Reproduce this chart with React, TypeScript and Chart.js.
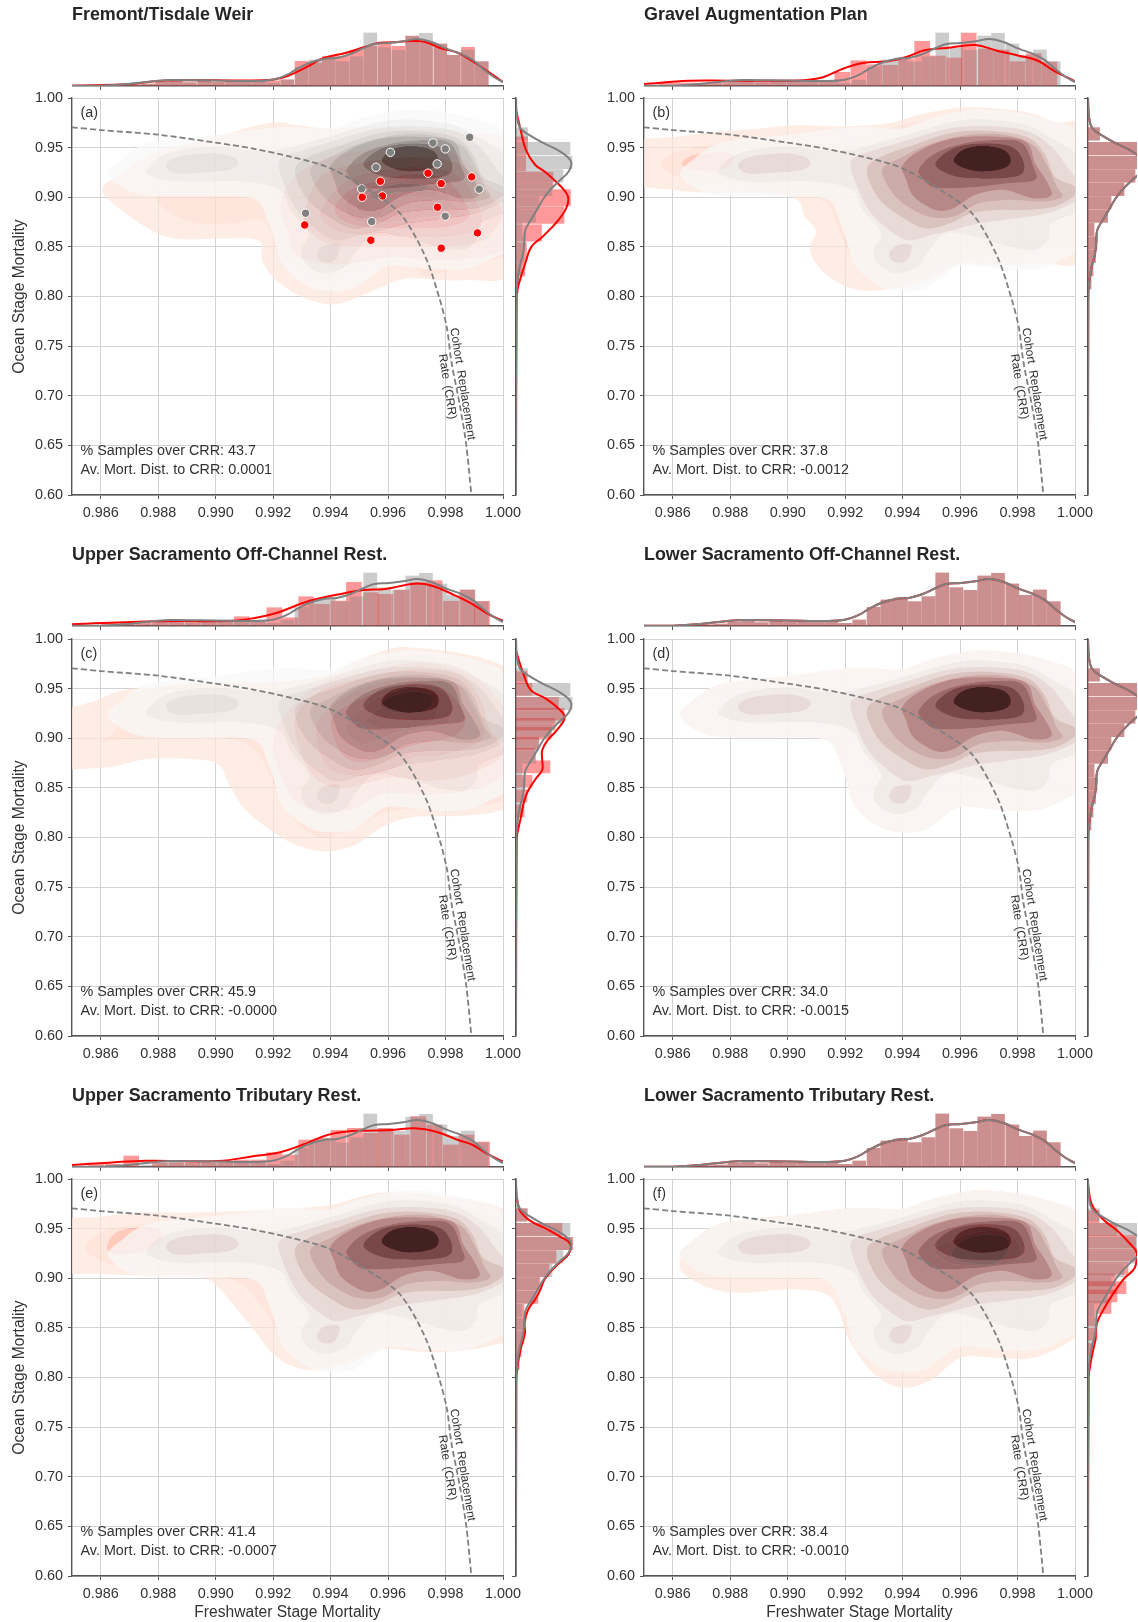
import React, { useEffect, useRef } from "react";
import { Chart, registerables } from "chart.js";

Chart.register(...registerables);
Chart.defaults.font.family = "'Liberation Sans', Arial, sans-serif";

type Pt = [number, number];

const TITLES = ["Fremont/Tisdale Weir", "Gravel Augmentation Plan", "Upper Sacramento Off-Channel Rest.", "Lower Sacramento Off-Channel Rest.", "Upper Sacramento Tributary Rest.", "Lower Sacramento Tributary Rest."];
const LETTERS = ["(a)", "(b)", "(c)", "(d)", "(e)", "(f)"];
const SAMPLES_OVER = ["43.7", "37.8", "45.9", "34.0", "41.4", "38.4"];
const MORT_DIST = ["0.0001", "-0.0012", "-0.0000", "-0.0015", "-0.0007", "-0.0010"];

const CRR_X = [0.985, 0.986, 0.988, 0.99, 0.9913, 0.9926, 0.99388, 0.99515, 0.99642, 0.9973, 0.9978, 0.99805, 0.9982, 0.9985, 0.99872, 0.9989];
const CRR_Y = [0.9705, 0.9677, 0.963, 0.955, 0.949, 0.941, 0.9305, 0.9105, 0.8836, 0.84, 0.797, 0.768, 0.735, 0.69, 0.651, 0.6];

const GREY_POINTS: Pt[] = [[0.99884, 0.9604], [0.99756, 0.9547], [0.99799, 0.9487], [0.99608, 0.9453], [0.99771, 0.9336], [0.99558, 0.9302], [0.99917, 0.9081], [0.99508, 0.9084], [0.99313, 0.8839], [0.99543, 0.8755], [0.99799, 0.8809]];
const RED_POINTS: Pt[] = [[0.99739, 0.9242], [0.99891, 0.9205], [0.99573, 0.9161], [0.99785, 0.9138], [0.9951, 0.9], [0.9958, 0.9013], [0.99772, 0.8899], [0.9931, 0.8721], [0.9954, 0.8567], [0.99911, 0.8641], [0.99785, 0.8487]];

// ---- Baseline KDE outlines (x, y)
const G1: Pt[] = [[0.98625, 0.9242], [0.98669, 0.9376], [0.98745, 0.9527], [0.98846, 0.9584], [0.98997, 0.9628], [0.99199, 0.9701], [0.99287, 0.9705], [0.99401, 0.9695], [0.99502, 0.9795], [0.99603, 0.9862], [0.99678, 0.9886], [0.99817, 0.9846], [0.9993, 0.9762], [1.0, 0.9661], [1.0006, 0.9309], [1.0006, 0.8503], [1.0, 0.8436], [0.9988, 0.8285], [0.99754, 0.8275], [0.99603, 0.8309], [0.99539, 0.8201], [0.99483, 0.8084], [0.99407, 0.805], [0.99325, 0.81], [0.99237, 0.8302], [0.99205, 0.857], [0.9918, 0.8772], [0.99149, 0.8956], [0.99073, 0.9007], [0.98871, 0.9007], [0.98745, 0.9023], [0.98669, 0.9107]];
const G2: Pt[] = [[0.9876, 0.9275], [0.98833, 0.9443], [0.98985, 0.951], [0.99123, 0.947], [0.99218, 0.9477], [0.99312, 0.9544], [0.99451, 0.9661], [0.99577, 0.9762], [0.99678, 0.9785], [0.99829, 0.9728], [0.99918, 0.9594], [1.0, 0.9443], [1.0003, 0.9242], [1.0003, 0.8906], [1.0, 0.8839], [0.99918, 0.8738], [0.99905, 0.857], [0.99855, 0.847], [0.99754, 0.852], [0.99653, 0.8604], [0.99552, 0.8638], [0.99483, 0.8436], [0.99451, 0.8302], [0.99376, 0.8235], [0.99312, 0.8336], [0.993, 0.847], [0.99325, 0.8638], [0.99262, 0.8872], [0.99224, 0.9074], [0.99098, 0.9158], [0.98871, 0.9158], [0.98783, 0.9208]];
const G3: Pt[] = [[0.99218, 0.9342], [0.99249, 0.9426], [0.99325, 0.9493], [0.99439, 0.9594], [0.99565, 0.9695], [0.99691, 0.9718], [0.99829, 0.9671], [0.99918, 0.951], [0.99981, 0.9275], [1.0003, 0.9107], [1.0003, 0.9007], [1.0, 0.8956], [0.99905, 0.8839], [0.99754, 0.8772], [0.99666, 0.8738], [0.99577, 0.8671], [0.99502, 0.8621], [0.99413, 0.857], [0.99325, 0.8738], [0.99275, 0.8906], [0.99237, 0.9141]];
const G3_LOBE_LEFT: Pt[] = [[0.98827, 0.9326], [0.98871, 0.9409], [0.98985, 0.9443], [0.9906, 0.9409], [0.99079, 0.9342], [0.99048, 0.9275], [0.98947, 0.9248], [0.98859, 0.9242]];
const G3_LOBE_LOW: Pt[] = [[0.99353, 0.8429], [0.99376, 0.851], [0.99426, 0.8527], [0.99428, 0.8436], [0.99407, 0.8352], [0.99369, 0.8352]];
const G4: Pt[] = [[0.99275, 0.9275], [0.99325, 0.9409], [0.99439, 0.9527], [0.99565, 0.9644], [0.99691, 0.9671], [0.99829, 0.9611], [0.99893, 0.9443], [0.9993, 0.9208], [1.0, 0.9107], [1.0, 0.9023], [0.9993, 0.8906], [0.99829, 0.8872], [0.99729, 0.8872], [0.9964, 0.8839], [0.99565, 0.8738], [0.99476, 0.8688], [0.99376, 0.8839], [0.99312, 0.9007]];
const G5: Pt[] = [[0.99331, 0.9292], [0.99401, 0.9409], [0.99502, 0.9544], [0.99628, 0.9628], [0.99754, 0.9628], [0.99855, 0.9527], [0.99905, 0.9309], [0.99937, 0.9107], [0.99956, 0.9007], [0.99893, 0.8956], [0.99779, 0.8973], [0.99666, 0.894], [0.99577, 0.8805], [0.99489, 0.8805], [0.99401, 0.894], [0.9935, 0.9107]];
const G6: Pt[] = [[0.99401, 0.9326], [0.99464, 0.9477], [0.99577, 0.9594], [0.99716, 0.9611], [0.99829, 0.956], [0.99861, 0.9342], [0.99899, 0.9175], [0.99918, 0.9023], [0.99855, 0.899], [0.99754, 0.9074], [0.99653, 0.9023], [0.99577, 0.8889], [0.99514, 0.8872], [0.99439, 0.9007], [0.99413, 0.9175]];
const G7: Pt[] = [[0.99458, 0.9292], [0.99514, 0.9443], [0.99615, 0.9544], [0.99729, 0.9577], [0.99817, 0.9544], [0.99855, 0.9309], [0.99861, 0.9175], [0.99766, 0.9141], [0.99666, 0.9107], [0.99565, 0.9091], [0.99502, 0.9107], [0.99464, 0.9208]];
const G8: Pt[] = [[0.99514, 0.9342], [0.99577, 0.9493], [0.99678, 0.9544], [0.99779, 0.951], [0.99819, 0.9376], [0.99817, 0.9242], [0.99754, 0.9191], [0.99628, 0.9191], [0.99552, 0.9242]];
const G9: Pt[] = [[0.99577, 0.9369], [0.99609, 0.9477], [0.99678, 0.952], [0.99754, 0.9477], [0.99777, 0.9376], [0.99754, 0.9292], [0.99678, 0.9258], [0.99615, 0.9292]];

// ---- Panel (a) action KDE outlines
const A1: Pt[] = [[0.98607, 0.9104], [0.98654, 0.9205], [0.98781, 0.944], [0.98958, 0.9574], [0.99186, 0.9748], [0.99287, 0.9725], [0.99389, 0.9691], [0.99515, 0.9708], [0.99667, 0.9691], [0.9987, 0.9658], [1.0005, 0.9473], [1.0005, 0.8299], [0.99857, 0.8164], [0.99667, 0.8181], [0.99553, 0.8064], [0.99452, 0.7946], [0.99389, 0.7923], [0.993, 0.7997], [0.99211, 0.8164], [0.99161, 0.8366], [0.99148, 0.8567], [0.99009, 0.8584], [0.98857, 0.8584], [0.98756, 0.8701], [0.98629, 0.897]];
const A2: Pt[] = [[0.98794, 0.9003], [0.98908, 0.9138], [0.99135, 0.9238], [0.99275, 0.9406], [0.99452, 0.954], [0.99667, 0.9574], [0.9987, 0.9507], [1.0005, 0.9238], [1.0005, 0.8483], [1.0, 0.8399], [0.99819, 0.8265], [0.9973, 0.8198], [0.99667, 0.8332], [0.99528, 0.8299], [0.99389, 0.8164], [0.99275, 0.8299], [0.99211, 0.8534], [0.99161, 0.8768], [0.99059, 0.8735], [0.98933, 0.8735], [0.98844, 0.8836]];
const A3: Pt[] = [[0.99224, 0.8903], [0.99262, 0.9171], [0.99363, 0.9373], [0.99515, 0.9473], [0.9968, 0.9507], [0.99832, 0.944], [0.99958, 0.9104], [1.0005, 0.897], [1.0005, 0.8567], [0.99933, 0.8399], [0.99743, 0.8366], [0.99616, 0.8399], [0.99465, 0.8332], [0.99363, 0.8332], [0.99275, 0.8433], [0.99249, 0.8668]];
const A4: Pt[] = [[0.99313, 0.8903], [0.99363, 0.9205], [0.9949, 0.9339], [0.9968, 0.9406], [0.99844, 0.9339], [0.99946, 0.9037], [1.0, 0.8836], [0.99933, 0.8567], [0.99794, 0.85], [0.99642, 0.85], [0.99515, 0.85], [0.99389, 0.8534], [0.99313, 0.8701]];
const A5: Pt[] = [[0.99363, 0.8836], [0.99427, 0.9104], [0.99515, 0.9238], [0.9968, 0.9305], [0.99832, 0.9238], [0.99908, 0.897], [0.9992, 0.8701], [0.99819, 0.8601], [0.99642, 0.8601], [0.99515, 0.8617], [0.99414, 0.8668]];
const A6: Pt[] = [[0.99414, 0.8903], [0.99465, 0.907], [0.99566, 0.9171], [0.9968, 0.9238], [0.99794, 0.9188], [0.99857, 0.9003], [0.99882, 0.8802], [0.99806, 0.8701], [0.99642, 0.8685], [0.99515, 0.8701], [0.99439, 0.8768]];
const A7: Pt[] = [[0.99452, 0.8936], [0.99503, 0.907], [0.99591, 0.9138], [0.99692, 0.9188], [0.99781, 0.9138], [0.99819, 0.897], [0.99844, 0.8836], [0.99743, 0.8802], [0.99616, 0.8752], [0.99515, 0.8752], [0.99465, 0.8802]];
const A8: Pt[] = [[0.99496, 0.8936], [0.99566, 0.9087], [0.9968, 0.9154], [0.99756, 0.9104], [0.99768, 0.9003], [0.99667, 0.9003], [0.99604, 0.8936], [0.99566, 0.8802], [0.99503, 0.8836]];
const A9: Pt[] = [[0.9954, 0.9037], [0.99629, 0.9131], [0.9973, 0.9121], [0.99718, 0.9064], [0.99616, 0.9044], [0.99566, 0.897]];

// ---- Panel (b)
const B1: Pt[] = [[0.984, 0.954], [0.98606, 0.9607], [0.98745, 0.9658], [0.98896, 0.9691], [0.99022, 0.9725], [0.99199, 0.9715], [0.9935, 0.9742], [0.99451, 0.9826], [0.99577, 0.9893], [0.99678, 0.9903], [0.99829, 0.9859], [0.9993, 0.9758], [1.0005, 0.9641], [1.0005, 0.8433], [0.9988, 0.8332], [0.99729, 0.8315], [0.99603, 0.8332], [0.99539, 0.8231], [0.99439, 0.8114], [0.9935, 0.807], [0.99249, 0.8064], [0.99161, 0.8164], [0.99098, 0.8332], [0.99078, 0.85], [0.99098, 0.8668], [0.9906, 0.8802], [0.99035, 0.897], [0.98947, 0.9037], [0.98745, 0.9044], [0.98606, 0.907], [0.984, 0.9171]];
const B2: Pt[] = [[0.98558, 0.9322], [0.98594, 0.9433], [0.9872, 0.9524], [0.98896, 0.9574], [0.99123, 0.954], [0.99218, 0.9557], [0.9935, 0.9691], [0.99451, 0.9758], [0.99577, 0.9842], [0.99678, 0.9859], [0.99829, 0.9809], [0.9993, 0.9691], [1.0005, 0.9507], [1.0005, 0.8634], [0.99918, 0.8517], [0.99804, 0.8399], [0.99653, 0.8382], [0.99552, 0.8332], [0.99476, 0.8198], [0.99376, 0.8114], [0.99275, 0.8198], [0.99212, 0.8433], [0.99174, 0.8701], [0.99123, 0.897], [0.98997, 0.907], [0.98745, 0.9138], [0.98619, 0.9205]];
const B3_LOBE: Pt[] = [[0.98632, 0.9339], [0.98669, 0.9423], [0.9877, 0.9456], [0.98815, 0.9406], [0.9877, 0.9272], [0.98669, 0.9272]];

// ---- Panel (c)
const C1: Pt[] = [[0.984, 0.9178], [0.98578, 0.9376], [0.98667, 0.9477], [0.98756, 0.951], [0.98958, 0.951], [0.99211, 0.956], [0.99389, 0.9628], [0.9949, 0.9779], [0.99616, 0.9906], [0.99692, 0.9913], [0.99844, 0.9862], [1.0, 0.9728], [1.0005, 0.9477], [1.0005, 0.8369], [0.99984, 0.8268], [0.99857, 0.8218], [0.9968, 0.8201], [0.99578, 0.8101], [0.9949, 0.7933], [0.99389, 0.7859], [0.99287, 0.7916], [0.99186, 0.8084], [0.99097, 0.8302], [0.99047, 0.8537], [0.99009, 0.8738], [0.9892, 0.8789], [0.98756, 0.8789], [0.98616, 0.8705], [0.984, 0.8738]];
const C2: Pt[] = [[0.98597, 0.8956], [0.98654, 0.9107], [0.9868, 0.9409], [0.98882, 0.9544], [0.99262, 0.9577], [0.9949, 0.9711], [0.99692, 0.9846], [0.99946, 0.9711], [1.0005, 0.951], [1.0005, 0.8503], [0.99882, 0.8302], [0.9973, 0.8285], [0.99591, 0.8252], [0.99465, 0.8067], [0.99363, 0.8], [0.99275, 0.8168], [0.99211, 0.8503], [0.99135, 0.8872], [0.99034, 0.9007], [0.98882, 0.904], [0.98756, 0.9007], [0.98629, 0.8973]];
const C3: Pt[] = [[0.99211, 0.9107], [0.99262, 0.9309], [0.99363, 0.9544], [0.99515, 0.9661], [0.99692, 0.9762], [0.99844, 0.9695], [0.99946, 0.951], [1.0005, 0.9107], [1.0005, 0.8772], [0.99971, 0.857], [0.99882, 0.847], [0.99768, 0.8436], [0.9968, 0.8436], [0.99578, 0.8436], [0.99465, 0.8268], [0.99363, 0.8268], [0.99275, 0.8369], [0.99224, 0.8638], [0.99199, 0.8906]];
const C4: Pt[] = [[0.99275, 0.9175], [0.99363, 0.9477], [0.99515, 0.9611], [0.99692, 0.9695], [0.99844, 0.9644], [0.9992, 0.9409], [0.99952, 0.9107], [1.0, 0.8839], [0.99882, 0.8638], [0.99743, 0.857], [0.99616, 0.8604], [0.99515, 0.8537], [0.99414, 0.8503], [0.99325, 0.8671]];
const C5: Pt[] = [[0.99363, 0.9208], [0.99465, 0.9443], [0.99591, 0.9577], [0.9973, 0.9611], [0.99844, 0.9544], [0.99895, 0.9309], [0.99933, 0.9007], [0.99806, 0.8839], [0.99692, 0.8805], [0.99604, 0.8671], [0.99477, 0.8621], [0.99389, 0.8705], [0.99351, 0.8973]];
const C6: Pt[] = [[0.99401, 0.9175], [0.99465, 0.9342], [0.99591, 0.9493], [0.9973, 0.956], [0.99819, 0.9443], [0.9987, 0.9175], [0.99819, 0.9007], [0.99705, 0.894], [0.99604, 0.8839], [0.99515, 0.8755], [0.99439, 0.8839]];
const C7: Pt[] = [[0.99452, 0.9107], [0.99515, 0.9309], [0.99591, 0.9443], [0.9973, 0.9527], [0.99813, 0.9409], [0.99813, 0.9175], [0.99743, 0.9107], [0.99629, 0.9057], [0.99515, 0.894]];
const C8: Pt[] = [[0.99522, 0.9191], [0.99578, 0.9309], [0.99591, 0.9426], [0.9968, 0.951], [0.99768, 0.9477], [0.99775, 0.9342], [0.99756, 0.9175], [0.9968, 0.9107], [0.99566, 0.9107]];
const C9: Pt[] = [[0.99578, 0.9349], [0.99616, 0.9426], [0.99692, 0.9473], [0.99756, 0.9409], [0.99724, 0.9275], [0.99642, 0.9258], [0.99591, 0.9292]];

// ---- Panel (e)
const E1: Pt[] = [[0.984, 0.9547], [0.98604, 0.9621], [0.98756, 0.9664], [0.98958, 0.9664], [0.99211, 0.9698], [0.99389, 0.9732], [0.99515, 0.9832], [0.99616, 0.9866], [0.99768, 0.9832], [1.0, 0.9698], [1.0005, 0.9312], [1.0005, 0.8406], [0.99984, 0.8339], [0.9987, 0.8272], [0.9973, 0.8255], [0.99591, 0.8289], [0.99515, 0.8205], [0.99414, 0.8104], [0.99313, 0.8077], [0.99211, 0.8205], [0.99135, 0.8473], [0.99059, 0.8742], [0.98996, 0.8943], [0.9892, 0.9027], [0.98756, 0.9027], [0.98616, 0.9044], [0.984, 0.9094]];
const E2: Pt[] = [[0.98543, 0.9295], [0.98591, 0.9446], [0.98692, 0.953], [0.98882, 0.9564], [0.99135, 0.9547], [0.99363, 0.9648], [0.99515, 0.9765], [0.99616, 0.9815], [0.99768, 0.9782], [0.99946, 0.9648], [1.0005, 0.9379], [1.0005, 0.8574], [0.9992, 0.8372], [0.99768, 0.8339], [0.99591, 0.8356], [0.9949, 0.8205], [0.99389, 0.8121], [0.99287, 0.8205], [0.99224, 0.8439], [0.99161, 0.8708], [0.99085, 0.8943], [0.98983, 0.9044], [0.98756, 0.9094], [0.98616, 0.9161]];
const E3_LOBE: Pt[] = [[0.98623, 0.9346], [0.98667, 0.948], [0.98781, 0.9513], [0.98815, 0.9413], [0.98756, 0.9279], [0.98642, 0.9245]];

// ---- Panel (f)
const F1: Pt[] = [[0.98625, 0.9138], [0.98657, 0.9003], [0.98745, 0.8886], [0.98846, 0.8852], [0.98997, 0.8886], [0.99123, 0.8852], [0.99174, 0.8701], [0.99205, 0.8433], [0.99262, 0.8164], [0.99325, 0.798], [0.99407, 0.7896], [0.99502, 0.798], [0.99603, 0.8198], [0.99729, 0.8198], [0.99855, 0.8198], [1.0, 0.8399], [1.0005, 0.8634], [1.0005, 0.9373], [0.9993, 0.9758], [0.99678, 0.9883], [0.99502, 0.9792], [0.99401, 0.9691], [0.99199, 0.9658], [0.98846, 0.959], [0.98669, 0.9373]];
const F8: Pt[] = [[0.99508, 0.9289], [0.99577, 0.9389], [0.99678, 0.9473], [0.99766, 0.9456], [0.99804, 0.9339], [0.99804, 0.9205], [0.99754, 0.9144], [0.99653, 0.9131], [0.99565, 0.9154]];
const F9: Pt[] = [[0.99571, 0.9272], [0.99615, 0.9389], [0.99691, 0.944], [0.9976, 0.9406], [0.99766, 0.9272], [0.99716, 0.9144], [0.99628, 0.9154], [0.99584, 0.9188]];

const GREY_LEVELS: Pt[][][] = [[G1], [G2], [G3, G3_LOBE_LEFT, G3_LOBE_LOW], [G4], [G5], [G6], [G7], [G8], [G9]];
const RED_LEVELS: Pt[][][][] = [
  [[A1], [A2], [A3], [A4], [A5], [A6], [A7], [A8], [A9]],
  [[B1], [B2], [G3, G3_LOBE_LEFT, G3_LOBE_LOW, B3_LOBE], [G4], [G5], [G6], [G7], [G8], [G9]],
  [[C1], [C2], [C3], [C4], [C5], [C6], [C7], [C8], [C9]],
  GREY_LEVELS,
  [[E1], [E2], [G3, G3_LOBE_LEFT, G3_LOBE_LOW, E3_LOBE], [G4], [G5], [G6], [G7], [G8], [G9]],
  [[F1], [G1], [G3, G3_LOBE_LEFT, G3_LOBE_LOW], [G4], [G5], [G6], [G7], [F8], [F9]],
];

const GREY_COLORS = ["rgba(248,248,248,.75)", "rgba(238,238,238,.75)", "rgba(224,224,224,.75)", "rgba(207,207,207,.75)", "rgba(188,188,188,.75)", "rgba(160,160,160,.75)", "rgba(125,125,125,.75)", "rgba(85,85,85,.75)", "rgba(37,37,37,.75)"];
const RED_COLORS = ["rgba(254,229,217,.7)", "rgba(254,220,205,.7)", "rgba(253,181,160,.7)", "rgba(253,147,125,.85)", "rgba(251,105,90,.88)", "rgba(247,55,48,.92)", "rgba(238,28,28,.92)", "rgba(218,12,16,.92)", "rgba(150,0,0,.92)"];

// ---- Top marginal histograms
const TOP_GREY_BINS = [0.99926, 0.99878, 0.99829, 0.99782, 0.99732, 0.99684, 0.99636, 0.99587, 0.99538, 0.9949, 0.99442, 0.99394, 0.99347, 0.99299, 0.99249, 0.992, 0.99152, 0.99104, 0.99057, 0.99008, 0.9896, 0.9891, 0.98862, 0.98814, 0.98766, 0.98718, 0.9867];
const TOP_GREY_VALUES = [24.3, 36, 30.7, 42, 52.7, 50, 35.7, 38.3, 53, 29.3, 24.3, 28, 26, 18.7, 6, 2.7, 4, 4.3, 4.7, 3.7, 5.3, 3.3, 6, 4, 2, 1.3, 0.7];
const TOP_A_VALUES = [24.3, 38.7, 30.7, 42, 43, 49.7, 39.7, 44, 39.7, 35.7, 29.7, 29.7, 23, 24.7, 6.3, 5.3, 4, 4.3, 4.7, 3.7, 5.3, 3.3, 6, 4, 2, 1.3, 0.7];
const TOP_B_BINS = [0.99911, 0.99856, 0.998, 0.99745, 0.9969, 0.9963, 0.99579, 0.99523, 0.99468, 0.99412, 0.99357, 0.99301, 0.99246, 0.9919, 0.99135, 0.99079, 0.99024, 0.98968, 0.98913, 0.98857, 0.98802, 0.98746, 0.98691, 0.98635, 0.9858];
const TOP_B_VALUES = [24, 32.3, 24.3, 36, 37, 53, 28, 30, 44.7, 27, 20.7, 21.3, 25.3, 13.7, 5.7, 4.7, 5, 4.7, 4.3, 5, 4, 3.7, 3, 3, 2.7];
const TOP_C_BINS = [0.99927, 0.99876, 0.99819, 0.99762, 0.99705, 0.99648, 0.99591, 0.9954, 0.99481, 0.99427, 0.9937, 0.99315, 0.99259, 0.99204, 0.99148, 0.99091, 0.99034, 0.98977, 0.9892, 0.98863, 0.98806, 0.98749, 0.98692, 0.98629];
const TOP_C_VALUES = [24.7, 36, 24.7, 45.3, 43.3, 36, 31.7, 33.3, 43.7, 25, 21.7, 29.3, 8.3, 18.3, 4, 9.3, 4.3, 4, 4.7, 4.7, 4, 3.3, 2.7, 2.3];
const TOP_E_BINS = [0.99927, 0.99873, 0.99818, 0.99762, 0.99705, 0.99648, 0.99591, 0.99538, 0.99484, 0.99427, 0.99371, 0.99315, 0.99259, 0.99204, 0.99148, 0.99091, 0.99034, 0.98977, 0.9892, 0.98863, 0.98806, 0.98706, 0.98642, 0.98585];
const TOP_E_VALUES = [25, 32, 22, 42, 50.3, 32, 38.7, 33.7, 38.7, 36.7, 28.7, 27, 12, 14.3, 7, 7, 5, 4.3, 5, 4.3, 4.3, 11, 2.7, 2.3];

// ---- Top marginal KDE curves
const TOP_KDE_GREY: Pt[] = [[0.985, 0.3], [0.986, 0.3], [0.98695, 2], [0.98799, 5.3], [0.98846, 6], [0.98947, 5.7], [0.99048, 5.3], [0.99123, 5], [0.99199, 6.3], [0.99249, 11.3], [0.99275, 15.7], [0.99325, 23], [0.99376, 27], [0.99426, 28.3], [0.9947, 32], [0.99514, 37.7], [0.99552, 42], [0.99603, 43], [0.99653, 44.7], [0.99703, 47], [0.99754, 43.7], [0.99804, 37.3], [0.99855, 32], [0.99893, 26.3], [0.9993, 17.3], [0.99968, 9], [1.0, 4]];
const TOP_KDE_A: Pt[] = [[0.985, 0.3], [0.987, 2], [0.988, 5], [0.989, 5.7], [0.99, 5.7], [0.991, 5.5], [0.992, 6.5], [0.9925, 10], [0.9933, 21], [0.99376, 28], [0.99452, 33], [0.99515, 38.7], [0.99566, 43], [0.99616, 43.7], [0.9968, 45], [0.9973, 44], [0.99781, 38], [0.99844, 33], [0.99895, 24.7], [0.99946, 14.7], [1.0, 4]];
const TOP_KDE_B: Pt[] = [[0.985, 2], [0.98657, 5.3], [0.98795, 5.3], [0.98997, 5.3], [0.99073, 6.3], [0.99123, 8.7], [0.99199, 18], [0.99262, 23], [0.9935, 24.7], [0.99413, 29], [0.99476, 35.7], [0.99552, 38], [0.99653, 41], [0.99729, 35.3], [0.99804, 30.3], [0.99867, 25.7], [0.9993, 14.7], [1.0, 4.7]];
const TOP_KDE_C: Pt[] = [[0.985, 1.7], [0.98794, 4.7], [0.9906, 5.3], [0.99135, 8], [0.99211, 13], [0.99325, 25], [0.99452, 33], [0.99515, 36], [0.99591, 37], [0.99692, 42.3], [0.99756, 40], [0.99832, 30.7], [0.99895, 21.7], [0.99952, 11.3], [1.0, 5.3]];
const TOP_KDE_E: Pt[] = [[0.985, 2], [0.98629, 4.3], [0.98756, 6.3], [0.99009, 6], [0.99135, 11], [0.99224, 14.7], [0.993, 22], [0.99389, 32], [0.99452, 35.3], [0.99515, 36.3], [0.99616, 37], [0.99692, 38.7], [0.99768, 35.3], [0.99844, 27], [0.99895, 22], [0.99946, 13], [1.0, 5.3]];

// ---- Right marginal histograms
const SIDE_GREY_BINS = [0.9638, 0.949, 0.935, 0.9215, 0.908, 0.8945, 0.881, 0.8675, 0.854, 0.8405, 0.827, 0.814];
const SIDE_GREY_VALUES = [11.5, 54, 56, 47, 36, 23, 19.6, 6, 9, 7.5, 5, 3];
const SIDE_A_BINS = [0.9525, 0.9348, 0.917, 0.8995, 0.882, 0.864, 0.846, 0.829, 0.812];
const SIDE_A_VALUES = [11.6, 9.8, 37, 54.5, 48, 25.5, 10.5, 9, 2.5];
const SIDE_C_BINS = [0.9611, 0.9493, 0.9352, 0.9242, 0.9141, 0.905, 0.895, 0.8839, 0.8711, 0.8567, 0.8419, 0.8268];
const SIDE_C_VALUES = [11, 16, 42.5, 48, 39, 35, 22.5, 19, 34, 16, 11, 8];
const SIDE_E_VALUES = [11, 46, 57, 40, 33, 24, 22, 8, 9, 8, 5, 3];
const SIDE_F_BINS = [0.962, 0.9493, 0.9369, 0.9235, 0.91, 0.8983, 0.8906, 0.8822, 0.8705, 0.858, 0.8436, 0.8285];
const SIDE_F_VALUES = [11, 29, 47.6, 50.9, 40, 27, 38, 29, 23, 7, 9, 4];

// ---- Right marginal KDE curves (density, y)
const SIDE_KDE_GREY: Pt[] = [[0, 1.0], [1, 0.9815], [4.3, 0.9697], [14.3, 0.962], [27.7, 0.9545], [44.3, 0.946], [55, 0.936], [52.7, 0.926], [42.7, 0.916], [34.3, 0.9075], [27.7, 0.899], [22.7, 0.8905], [16, 0.879], [9.3, 0.867], [8.3, 0.855], [7, 0.843], [3.7, 0.83], [1, 0.813], [0.3, 0.796], [0, 0.6]];
const SIDE_KDE_A: Pt[] = [[0, 0.988], [4.4, 0.969], [9.8, 0.948], [18.9, 0.933], [29.8, 0.925], [40.7, 0.915], [49.8, 0.905], [52.4, 0.898], [49.8, 0.888], [40.7, 0.875], [26.2, 0.86], [15.3, 0.85], [9.8, 0.835], [4.4, 0.818], [0.7, 0.802], [0, 0.6]];
const SIDE_KDE_C: Pt[] = [[0, 0.988], [8, 0.963], [15.3, 0.948], [29.8, 0.94], [42.5, 0.93], [48.7, 0.921], [40.7, 0.908], [31.6, 0.898], [26.2, 0.888], [26.2, 0.878], [26.2, 0.868], [18.9, 0.858], [9.8, 0.842], [4.4, 0.818], [0.7, 0.798], [0, 0.6]];
const SIDE_KDE_E: Pt[] = [[0, 0.99], [1, 0.98], [4, 0.968], [14, 0.958], [28, 0.951], [44, 0.942], [54, 0.935], [53, 0.925], [43, 0.915], [33, 0.905], [28, 0.898], [25, 0.89], [20, 0.88], [12, 0.868], [8.5, 0.855], [9, 0.845], [5, 0.83], [2, 0.815], [0.3, 0.795], [0, 0.6]];
const SIDE_KDE_F: Pt[] = [[0, 0.995], [3.6, 0.975], [14.5, 0.96], [29, 0.948], [41.8, 0.935], [49, 0.925], [46.5, 0.91], [36.4, 0.9], [25.5, 0.885], [16.4, 0.87], [9, 0.855], [7.3, 0.838], [3.6, 0.82], [0.7, 0.8], [0, 0.6]];

const TOP_RED_BINS = [TOP_GREY_BINS, TOP_B_BINS, TOP_C_BINS, TOP_GREY_BINS, TOP_E_BINS, TOP_GREY_BINS];
const TOP_RED_VALUES = [TOP_A_VALUES, TOP_B_VALUES, TOP_C_VALUES, TOP_GREY_VALUES, TOP_E_VALUES, TOP_GREY_VALUES];
const TOP_RED_KDE = [TOP_KDE_A, TOP_KDE_B, TOP_KDE_C, TOP_KDE_GREY, TOP_KDE_E, TOP_KDE_GREY];
const SIDE_RED_BINS = [SIDE_A_BINS, SIDE_GREY_BINS, SIDE_C_BINS, SIDE_GREY_BINS, SIDE_GREY_BINS, SIDE_F_BINS];
const SIDE_RED_VALUES = [SIDE_A_VALUES, SIDE_GREY_VALUES, SIDE_C_VALUES, SIDE_GREY_VALUES, SIDE_E_VALUES, SIDE_F_VALUES];
const SIDE_RED_KDE = [SIDE_KDE_A, SIDE_KDE_GREY, SIDE_KDE_C, SIDE_KDE_GREY, SIDE_KDE_E, SIDE_KDE_F];
const TOP_RED_THICK = [13, 15, 15, 13, 15, 13];
const SIDE_RED_THICK = [16.5, 12.5, 12, 12.5, 12.5, 12];

// ---- Layout
const COL_LEFT = [72, 644];
const ROW_MAIN_TOP = [98, 639, 1179];
const ROW_BASE = [86, 626, 1167];
const PLOT_W = 431;
const PLOT_H = 397;
const TOP_H = 92;
const FONT_TICK = 14.4;
const FONT_LABEL = 15.6;
const FONT_NOTE = 14.35;
const FONT_CURVE = 12;
const TEXT_COLOR = "#333333";
const SPINE = "#555555";
const GRID = "#d2d2d2";

function tracePolygon(ctx: CanvasRenderingContext2D, xs: any, ys: any, poly: Pt[]) {
  const p = poly.map((q) => [xs.getPixelForValue(q[0]), ys.getPixelForValue(q[1])]);
  const n = p.length;
  ctx.moveTo(p[0][0], p[0][1]);
  for (let i = 0; i < n; i++) {
    const a = p[(i - 1 + n) % n], b = p[i], c = p[(i + 1) % n], d = p[(i + 2) % n];
    ctx.bezierCurveTo(b[0] + (c[0] - a[0]) / 6, b[1] + (c[1] - a[1]) / 6, c[0] - (d[0] - b[0]) / 6, c[1] - (d[1] - b[1]) / 6, c[0], c[1]);
  }
  ctx.closePath();
}

const contourPlugin = {
  id: "contours",
  beforeDatasetsDraw(chart: any, _a: any, opts: any) {
    const { ctx, chartArea: ca, scales } = chart;
    ctx.save();
    ctx.beginPath();
    ctx.rect(ca.left, ca.top, ca.right - ca.left, ca.bottom - ca.top);
    ctx.clip();
    for (const kde of opts.kdes || []) {
      kde.levels.forEach((level: Pt[][], i: number) => {
        ctx.beginPath();
        for (const poly of level) tracePolygon(ctx, scales.x, scales.y, poly);
        const inner = kde.levels[i + 1];
        if (inner) for (const poly of inner) tracePolygon(ctx, scales.x, scales.y, poly);
        ctx.fillStyle = kde.colors[i];
        ctx.fill("evenodd");
      });
    }
    ctx.restore();
  },
};

const notePlugin = {
  id: "notes",
  afterDatasetsDraw(chart: any, _a: any, opts: any) {
    const { ctx, chartArea: ca, scales } = chart;
    ctx.save();
    ctx.fillStyle = TEXT_COLOR;
    ctx.textBaseline = "middle";
    ctx.textAlign = "left";
    ctx.font = `${FONT_NOTE}px 'Liberation Sans'`;
    ctx.fillText(opts.letter, ca.left + 8.5, ca.top + 15.5);
    ctx.fillText(`% Samples over CRR: ${opts.over}`, ca.left + 8.5, ca.bottom - 44);
    ctx.fillText(`Av. Mort. Dist. to CRR: ${opts.dist}`, ca.left + 8.5, ca.bottom - 25);
    ctx.font = `${FONT_CURVE}px 'Liberation Sans'`;
    ctx.textAlign = "center";
    const put = (t: string, x: number, y: number) => {
      ctx.save();
      ctx.translate(scales.x.getPixelForValue(x), scales.y.getPixelForValue(y));
      ctx.rotate((81 * Math.PI) / 180);
      ctx.fillText(t, 0, 0);
      ctx.restore();
    };
    put("Cohort  Replacement", 0.99859, 0.7118);
    put("Rate  (CRR)", 0.99806, 0.7093);
    ctx.restore();
  },
};

function toXY(p: Pt[]) {
  return p.map((q) => ({ x: q[0], y: q[1] }));
}

function Panel({ index }: { index: number }) {
  const mainRef = useRef<HTMLCanvasElement>(null);
  const topRef = useRef<HTMLCanvasElement>(null);
  const sideRef = useRef<HTMLCanvasElement>(null);
  const col = index % 2;
  const row = Math.floor(index / 2);
  const left = COL_LEFT[col];
  const mainTop = ROW_MAIN_TOP[row];
  const base = ROW_BASE[row];
  const yAxisW = col === 0 ? 72 : 60;
  const xAxisH = row === 2 ? 48 : 30;
  const sideLeft = left + PLOT_W + 13;
  const sideArea = col === 0 ? 57 : 49;

  useEffect(() => {
    const main = new Chart(mainRef.current as any, {
      type: "scatter",
      data: {
        datasets: [
          ...(index === 0
            ? [
                { label: "red", data: toXY(RED_POINTS), backgroundColor: "#ff0000", borderColor: "#ffffff", borderWidth: 1, pointRadius: 4.2, order: 1 },
                { label: "grey", data: toXY(GREY_POINTS), backgroundColor: "#808080", borderColor: "#ffffff", borderWidth: 1, pointRadius: 4.2, order: 1 },
              ]
            : []),
          { label: "CRR", data: CRR_X.map((x, i) => ({ x, y: CRR_Y[i] })), showLine: true, borderColor: "#808080", borderWidth: 1.8, borderDash: [6, 3], pointRadius: 0, tension: 0.3, order: 0 },
        ],
      },
      options: {
        animation: false,
        responsive: false,
        events: [],
        layout: { autoPadding: false, padding: { top: 10, right: 24, left: 0, bottom: 0 } },
        plugins: {
          legend: { display: false },
          tooltip: { enabled: false },
          contours: { kdes: [{ levels: RED_LEVELS[index], colors: RED_COLORS }, { levels: GREY_LEVELS, colors: GREY_COLORS }] },
          notes: { letter: LETTERS[index], over: SAMPLES_OVER[index], dist: MORT_DIST[index] },
        } as any,
        scales: {
          x: {
            type: "linear",
            min: 0.985,
            max: 1.0,
            afterFit(s: any) { s.height = xAxisH; s.paddingLeft = 0; s.paddingRight = 0; s.paddingTop = 0; s.paddingBottom = 0; },
            ticks: { stepSize: 0.002, includeBounds: false, maxRotation: 0, autoSkip: false, padding: 5, color: TEXT_COLOR, font: { size: FONT_TICK }, callback: (v: any) => Number(v).toFixed(3) },
            grid: { color: GRID, lineWidth: 1, tickLength: 4, tickColor: SPINE },
            border: { color: SPINE, width: 1.4 },
            title: { display: row === 2, text: "Freshwater Stage Mortality", color: TEXT_COLOR, font: { size: FONT_LABEL }, padding: { top: 0, bottom: 1.5 } },
          },
          y: {
            type: "linear",
            min: 0.6,
            max: 1.0,
            afterFit(s: any) { s.width = yAxisW; s.paddingLeft = 0; s.paddingRight = 0; s.paddingTop = 0; s.paddingBottom = 0; },
            ticks: { stepSize: 0.05, padding: 5, autoSkip: false, color: TEXT_COLOR, font: { size: FONT_TICK }, callback: (v: any) => Number(v).toFixed(2) },
            grid: { color: GRID, lineWidth: 1, tickLength: 4, tickColor: SPINE },
            border: { color: SPINE, width: 1.4 },
            title: { display: col === 0, text: "Ocean Stage Mortality", color: TEXT_COLOR, font: { size: FONT_LABEL }, padding: { top: 10, bottom: 0 } },
          },
        },
      } as any,
      plugins: [contourPlugin, notePlugin],
    } as any);

    const top = new Chart(topRef.current as any, {
      type: "bar",
      data: {
        datasets: [
          { type: "line", label: "grey kde", data: toXY(TOP_KDE_GREY), borderColor: "#808080", borderWidth: 2, pointRadius: 0, tension: 0.4, order: 0 },
          { type: "line", label: "red kde", data: toXY(TOP_RED_KDE[index]), borderColor: "#ff0000", borderWidth: 2, pointRadius: 0, tension: 0.4, order: 1 },
          { label: "grey", data: TOP_GREY_BINS.map((x, i) => ({ x, y: TOP_GREY_VALUES[i] })), backgroundColor: "rgba(128,128,128,.4)", barThickness: 13, grouped: false, order: 2 },
          { label: "red", data: TOP_RED_BINS[index].map((x, i) => ({ x, y: TOP_RED_VALUES[index][i] })), backgroundColor: "rgba(255,0,0,.4)", barThickness: TOP_RED_THICK[index], grouped: false, order: 3 },
        ],
      },
      options: {
        animation: false,
        responsive: false,
        events: [],
        layout: { autoPadding: false, padding: { right: 2, left: 0, top: 0, bottom: 0 } },
        plugins: {
          legend: { display: false },
          tooltip: { enabled: false },
          title: { display: true, text: TITLES[index], align: "start", color: "#262626", font: { size: 17.9, weight: "bold", lineHeight: 1.2 }, padding: { top: 4.4, bottom: 4.1 } },
        },
        scales: {
          x: {
            type: "linear",
            min: 0.985,
            max: 1.0,
            offset: false,
            afterFit(s: any) { s.height = 6; },
            ticks: { stepSize: 0.002, includeBounds: false, display: false, autoSkip: false },
            grid: { offset: false, drawOnChartArea: false, tickLength: 4, tickColor: SPINE },
            border: { color: SPINE, width: 1.4 },
          },
          y: { type: "linear", min: 0, max: 56, display: false },
        },
      } as any,
    } as any);

    const side = new Chart(sideRef.current as any, {
      type: "bar",
      data: {
        datasets: [
          { type: "line", label: "grey kde", data: toXY(SIDE_KDE_GREY).reverse(), borderColor: "#808080", borderWidth: 2, pointRadius: 0, tension: 0.4, order: 0 },
          { type: "line", label: "red kde", data: toXY(SIDE_RED_KDE[index]).reverse(), borderColor: "#ff0000", borderWidth: 2, pointRadius: 0, tension: 0.4, order: 1 },
          { label: "grey", data: SIDE_GREY_BINS.map((y, i) => ({ x: SIDE_GREY_VALUES[i], y })), backgroundColor: "rgba(128,128,128,.4)", barThickness: 12.5, grouped: false, order: 2 },
          { label: "red", data: SIDE_RED_BINS[index].map((y, i) => ({ x: SIDE_RED_VALUES[index][i], y })), backgroundColor: "rgba(255,0,0,.4)", barThickness: SIDE_RED_THICK[index], grouped: false, order: 3 },
        ],
      },
      options: {
        animation: false,
        responsive: false,
        events: [],
        indexAxis: "y",
        layout: { autoPadding: false, padding: { top: 3, bottom: 3, left: 0, right: 0 } },
        plugins: { legend: { display: false }, tooltip: { enabled: false } },
        scales: {
          x: { type: "linear", min: 0, max: sideArea, display: false },
          y: {
            type: "linear",
            min: 0.6,
            max: 1.0,
            offset: false,
            afterFit(s: any) { s.width = 6; },
            ticks: { stepSize: 0.05, display: false, autoSkip: false },
            grid: { offset: false, drawOnChartArea: false, tickLength: 4, tickColor: SPINE },
            border: { color: SPINE, width: 1.4 },
          },
        },
      } as any,
    } as any);

    return () => {
      main.destroy();
      top.destroy();
      side.destroy();
    };
  }, []);

  return (
    <>
      <canvas ref={topRef} width={PLOT_W + 2} height={TOP_H} style={{ position: "absolute", left, top: base - 86, width: PLOT_W + 2, height: TOP_H }} />
      <canvas ref={mainRef} width={yAxisW + PLOT_W + 24} height={10 + PLOT_H + xAxisH} style={{ position: "absolute", left: left - yAxisW, top: mainTop - 10, width: yAxisW + PLOT_W + 24, height: 10 + PLOT_H + xAxisH }} />
      <canvas ref={sideRef} width={6 + sideArea} height={PLOT_H + 6} style={{ position: "absolute", left: sideLeft - 6, top: mainTop - 3, width: 6 + sideArea, height: PLOT_H + 6 }} />
    </>
  );
}

export default function App() {
  return (
    <div style={{ position: "absolute", left: 0, top: 0, width: 1138, height: 1622, overflow: "hidden", background: "#ffffff" }}>
      {TITLES.map((_, i) => (
        <Panel key={i} index={i} />
      ))}
    </div>
  );
}
